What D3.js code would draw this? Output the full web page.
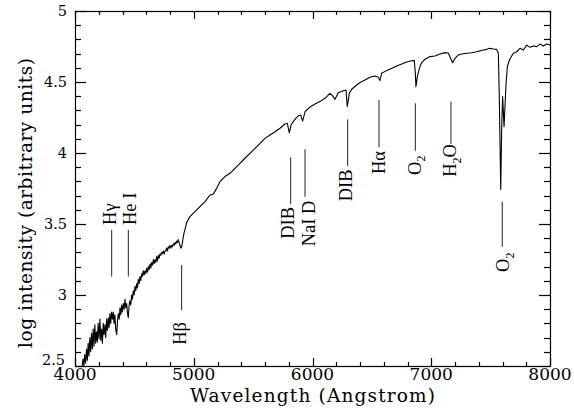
<!DOCTYPE html>
<html>
<head>
<meta charset="utf-8">
<script src="https://cdn.jsdelivr.net/npm/d3@7/dist/d3.min.js"></script>
<style>
  html, body { margin: 0; padding: 0; background: #fff; }
  svg { display: block; }
</style>
</head>
<body>
<div id="chart"></div>
<script>
// ---------------- DATA ----------------
const wavelength = [
  4060,4068,4075,4082,4090,4097,4104,4111,4118,4125,4132,4139,4146,4153,4160,4167,4174,4181,4188,4195,
  4202,4210,4217,4224,4231,4238,4245,4252,4259,4266,4273,4280,4287,4294,4301,4308,4315,4322,4329,4336,
  4343,4351,4358,4365,4372,4379,4386,4393,4400,4407,4414,4421,4428,4435,4442,4449,4456,4463,4470,4477,
  4484,4491,4498,4505,4512,4519,4526,4533,4540,4547,4554,4561,4568,4575,4582,4589,4596,4604,4611,4618,
  4625,4632,4639,4646,4653,4660,4667,4674,4681,4688,4695,4702,4709,4716,4723,4730,4737,4744,4751,4758,
  4765,4772,4779,4786,4793,4800,4807,4814,4821,4828,4835,4842,4849,4856,4863,4870,4877,4884,4891,4898,
  4905,4912,4919,4926,4940,4968,5010,5052,5095,5137,5165,5193,5221,5263,5305,5347,5389,5431,5473,5516,
  5558,5600,5642,5684,5726,5768,5788,5805,5819,5852,5880,5900,5917,5937,5979,6021,6063,6105,6147,6170,
  6189,6217,6259,6282,6293,6310,6330,6372,6400,6442,6484,6526,6554,6568,6582,6624,6667,6709,6751,6793,
  6835,6857,6866,6871,6883,6900,6919,6947,6989,7031,7074,7116,7144,7163,7180,7200,7228,7256,7298,7340,
  7383,7411,7439,7467,7495,7523,7551,7565,7573,7585,7593,7601,7613,7630,7641,7658,7691,7719,7747,7776,
  7804,7832,7860,7888,7916,7944,7972,8000
];
const logIntensity = [
  2.50,2.55,2.50,2.58,2.52,2.62,2.54,2.66,2.57,2.70,2.60,2.73,2.62,2.76,2.64,2.79,2.66,2.74,2.67,2.80,
  2.69,2.83,2.68,2.76,2.66,2.80,2.72,2.79,2.70,2.83,2.75,2.84,2.77,2.87,2.80,2.88,2.83,2.88,2.80,2.86,
  2.76,2.72,2.82,2.87,2.83,2.91,2.86,2.93,2.88,2.94,2.90,2.97,2.91,2.94,2.87,2.84,2.93,2.96,2.93,3.00,
  2.97,3.03,3.00,3.06,3.03,3.08,3.05,3.11,3.08,3.13,3.10,3.15,3.13,3.17,3.14,3.17,3.15,3.19,3.16,3.20,
  3.18,3.22,3.19,3.23,3.21,3.25,3.22,3.25,3.23,3.27,3.24,3.28,3.26,3.29,3.28,3.30,3.29,3.31,3.29,3.31,
  3.31,3.33,3.31,3.34,3.33,3.35,3.33,3.35,3.34,3.36,3.35,3.37,3.36,3.38,3.37,3.39,3.37,3.35,3.33,3.34,
  3.37,3.41,3.44,3.46,3.51,3.552,3.587,3.622,3.658,3.704,3.712,3.751,3.798,3.834,3.857,3.892,3.927,3.963,3.998,4.033,
  4.068,4.103,4.127,4.150,4.174,4.204,4.209,4.142,4.197,4.237,4.262,4.268,4.225,4.291,4.324,4.345,4.362,4.385,4.420,4.402,
  4.378,4.425,4.439,4.444,4.327,4.420,4.449,4.479,4.496,4.514,4.533,4.542,4.533,4.510,4.561,4.580,4.596,4.613,4.627,4.641,
  4.650,4.652,4.561,4.467,4.538,4.596,4.636,4.660,4.679,4.683,4.697,4.707,4.702,4.667,4.636,4.667,4.690,4.697,4.702,4.706,
  4.713,4.720,4.725,4.730,4.737,4.732,4.730,4.702,4.397,3.744,4.162,4.397,4.185,4.490,4.608,4.655,4.702,4.713,4.737,4.725,
  4.760,4.744,4.753,4.749,4.767,4.753,4.767,4.760
];

const xTicks = [4000, 5000, 6000, 7000, 8000];
const yTicks = [2.5, 3, 3.5, 4, 4.5, 5];
const xDomain = [4000, 8000];
const yDomain = [2.5, 5];

// Line identifications
const annLabel     = ["H{γ}", "He I", "H{β}", "DIB", "NaI D", "DIB", "H{α}", "O_2", "H_2O", "O_2"];
const annWave      = [4309, 4449, 4898, 5816, 5937, 6296, 6560, 6866, 7166, 7598];
const annTop       = [3.458, 3.458, 3.211, 3.970, 4.026, 4.237, 4.373, 4.350, 4.361, 3.657];
const annBottom    = [3.129, 3.129, 2.894, 3.641, 3.692, 3.908, 4.040, 4.016, 4.063, 3.340];
const annLabelWave = [4288, 4456, 4884, 5788, 5965, 6276, 6554, 6855, 7158, 7604];
const annLabelAt   = [3.493, 3.493, 2.810, 3.620, 3.665, 3.884, 4.014, 3.982, 4.063, 3.299];
const annSide      = ["above", "above", "below", "below", "below", "below", "below", "below", "below", "below"];

// ---------------- CHART ----------------
const W = 574, H = 412;
const m = { left: 75, top: 11, right: 24, bottom: 46 };
const iw = W - m.left - m.right, ih = H - m.top - m.bottom;

const svg = d3.select("#chart").append("svg").attr("width", W).attr("height", H);
const g = svg.append("g").attr("transform", `translate(${m.left},${m.top})`);

const x = d3.scaleLinear().domain(xDomain).range([0, iw]);
const y = d3.scaleLinear().domain(yDomain).range([ih, 0]);

const tickFont = "DejaVu Serif";
const xMinor = d3.range(4000, 8001, 200).filter(v => v % 1000 !== 0);
const yMinor = d3.range(25, 51, 1).map(v => v / 10).filter(v => Math.abs(v * 2 - Math.round(v * 2)) > 1e-6);

// frame
g.append("rect").attr("x", 0.5).attr("y", 0.5).attr("width", iw).attr("height", ih)
  .attr("fill", "none").attr("stroke", "#000").attr("stroke-width", 1.2);

// tick marks (inward, on all four sides)
const tickLayer = g.append("g");
function drawXTicks(vals, len) {
  vals.forEach(d => {
    const px = Math.round(x(d)) + 0.5;
    tickLayer.append("line").attr("x1", px).attr("x2", px).attr("y1", ih).attr("y2", ih - len)
      .style("stroke", "#000").style("stroke-width", "1.2px");
    tickLayer.append("line").attr("x1", px).attr("x2", px).attr("y1", 0).attr("y2", len)
      .style("stroke", "#000").style("stroke-width", "1.2px");
  });
}
function drawYTicks(vals, len) {
  vals.forEach(d => {
    const py = Math.round(y(d)) + 0.5;
    tickLayer.append("line").attr("x1", 0).attr("x2", len).attr("y1", py).attr("y2", py)
      .style("stroke", "#000").style("stroke-width", "1.2px");
    tickLayer.append("line").attr("x1", iw).attr("x2", iw - len).attr("y1", py).attr("y2", py)
      .style("stroke", "#000").style("stroke-width", "1.2px");
  });
}
drawXTicks(xTicks, 8);
drawXTicks(xMinor, 4);
drawYTicks(yTicks, 11);
drawYTicks(yMinor, 6);

// tick labels
g.append("g").selectAll("text").data(xTicks).join("text")
  .attr("x", d => x(d)).attr("y", ih + 13.5)
  .attr("text-anchor", "middle")
  .attr("font-family", tickFont).attr("font-size", 17).attr("fill", "#000")
  .text(d3.format("d"));
g.append("g").selectAll("text").data(yTicks).join("text")
  .attr("x", d => d === 2.5 ? -10 : -8).attr("y", d => y(d) + (d === 2.5 ? -6 : 0)).attr("dy", "0.36em")
  .attr("text-anchor", "end")
  .attr("font-family", tickFont).attr("font-size", 14.5).attr("fill", "#000")
  .text(d3.format(""));

// spectrum
const pts = wavelength.map((w, i) => [w, logIntensity[i]]);
g.append("path").datum(pts)
  .attr("fill", "none").attr("stroke", "#000").attr("stroke-width", 1.1).attr("stroke-linejoin", "round")
  .attr("d", d3.line().x(d => x(d[0])).y(d => y(d[1])));

// annotation lines
annWave.forEach((w, i) => {
  g.append("line")
    .attr("x1", x(w)).attr("x2", x(w))
    .attr("y1", y(annTop[i])).attr("y2", y(annBottom[i]))
    .attr("stroke", "#222").attr("stroke-width", 1);
});

// annotation labels (rotated, reading upward)
function addLabel(parent, str, fs) {
  const t = parent.append("text");
  let i = 0, pendingUp = 0, first = true;
  while (i < str.length) {
    const c = str[i];
    let sp;
    if (c === "_") {
      sp = t.append("tspan").attr("font-size", fs * 0.65).attr("dy", fs * 0.25 + (first ? fs * 0.35 : 0)).text(str[i + 1]);
      pendingUp = -fs * 0.25;
      i += 2;
    } else {
      let txt;
      if (c === "{") { const j = str.indexOf("}", i); txt = str.slice(i + 1, j); i = j + 1; }
      else { let j = i; while (j < str.length && str[j] !== "_" && str[j] !== "{") j++; txt = str.slice(i, j); i = j; }
      sp = t.append("tspan").text(txt);
      const dy = (first ? fs * 0.35 : 0) + pendingUp;
      if (dy) sp.attr("dy", dy);
      pendingUp = 0;
    }
    first = false;
  }
  return t;
}

annLabel.forEach((lab, i) => {
  const fs = 18.5;
  const lg = g.append("g")
    .attr("transform", `translate(${x(annLabelWave[i])},${y(annLabelAt[i])}) rotate(-90)`);
  addLabel(lg, lab, fs)
    .attr("font-family", "Liberation Serif")
    .attr("font-size", fs)
    .attr("fill", "#000")
    .attr("text-anchor", annSide[i] === "above" ? "start" : "end");
});

// axis titles
svg.append("text")
  .attr("x", m.left + iw / 2).attr("y", 402)
  .attr("text-anchor", "middle")
  .attr("font-family", tickFont).attr("font-size", 18.5).attr("fill", "#000")
  .attr("textLength", 245).attr("lengthAdjust", "spacing")
  .text("Wavelength (Angstrom)");

svg.append("text")
  .attr("transform", `translate(32,203) rotate(-90)`)
  .attr("text-anchor", "middle")
  .attr("font-family", tickFont).attr("font-size", 18.5).attr("fill", "#000")
  .attr("textLength", 290).attr("lengthAdjust", "spacing")
  .text("log intensity (arbitrary units)");
</script>
</body>
</html>
